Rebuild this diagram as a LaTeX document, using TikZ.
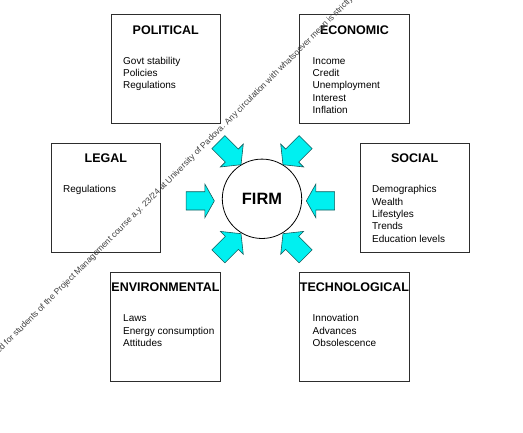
\documentclass[tikz,border=0pt]{standalone}
\usepackage{fontspec}
\setmainfont{Liberation Sans}
\definecolor{arrowcyan}{RGB}{0,240,240}
\definecolor{arrowedge}{RGB}{20,90,90}
\definecolor{boxline}{RGB}{45,45,45}
\begin{document}
\begin{tikzpicture}[x=1pt,y=-1pt,
  box/.style={draw=boxline, line width=0.8pt, minimum width=109.5pt, minimum height=109pt, inner sep=0pt},
  ttl/.style={font=\fontsize{12.5}{14}\selectfont\bfseries, anchor=base, inner sep=0pt},
  item/.style={font=\fontsize{10}{12}\selectfont, anchor=base west, inner sep=0pt},
  firm/.style={circle, draw=black, line width=0.8pt, minimum size=79.4pt, inner sep=0pt, font=\fontsize{16.4}{18}\selectfont\bfseries},
  blk/.style={fill=arrowcyan, draw=arrowedge, line width=0.6pt, line join=miter},
  wm/.style={font=\fontsize{8.5}{10}\selectfont, text=black!75, anchor=base west, inner sep=0pt, rotate=45},
  harrow/.pic={\draw[blk] (-14.15,-9.15) -- (4.65,-9.15) -- (4.65,-16.85) -- (14.15,0) -- (4.65,16.85) -- (4.65,9.15) -- (-14.15,9.15) -- cycle;},
  darrow/.pic={\draw[blk] (-16,-9.2) -- (3,-9.2) -- (3,-16.2) -- (16,0) -- (3,16.2) -- (3,9.2) -- (-16,9.2) -- cycle;}
]
\useasboundingbox (0,0) rectangle (523,433);

% boxes
\node[box] (pol) at (165.7,69.1) {};
\node[box] (eco) at (354.5,69.2) {};
\node[box] (leg) at (105.8,197.8) {};
\node[box] (soc) at (414.7,197.8) {};
\node[box] (env) at (165.5,326.8) {};
\node[box] (tec) at (354.5,326.8) {};

% titles
\node[ttl] (polT) at (165.7,34.2) {POLITICAL};
\node[ttl] (ecoT) at (354.5,34.2) {ECONOMIC};
\node[ttl] (legT) at (105.8,162.8) {LEGAL};
\node[ttl] (socT) at (414.7,162.8) {SOCIAL};
\node[ttl] (envT) at (165.5,291.8) {ENVIRONMENTAL};
\node[ttl] (tecT) at (354.5,291.8) {TECHNOLOGICAL};

% items
\foreach \t [count=\i from 0] in {Govt stability,Policies,Regulations}
  \node[item] (pol\i) at (123,{64.4+12.3*\i}) {\t};
\foreach \t [count=\i from 0] in {Income,Credit,Unemployment,Interest,Inflation}
  \node[item] (eco\i) at (312.5,{64.4+12.3*\i}) {\t};
\foreach \t [count=\i from 0] in {Regulations}
  \node[item] (leg\i) at (63,{193+12.3*\i}) {\t};
\foreach \t [count=\i from 0] in {Demographics,Wealth,Lifestyles,Trends,Education levels}
  \node[item] (soc\i) at (372,{193+12.3*\i}) {\t};
\foreach \t [count=\i from 0] in {Laws,Energy consumption,Attitudes}
  \node[item] (env\i) at (123,{322+12.3*\i}) {\t};
\foreach \t [count=\i from 0] in {Innovation,Advances,Obsolescence}
  \node[item] (tec\i) at (312.5,{322+12.3*\i}) {\t};

% firm
\node[firm] (firm) at (262,198.8) {FIRM};

% block arrows
\pic at (200.2,200.9) {harrow};
\pic[rotate=180] at (320.5,200.9) {harrow};
\pic[rotate=-45] at (229.7,153.4) {darrow};
\pic[rotate=-135] at (294.3,153.4) {darrow};
\pic[rotate=45] at (229.7,245) {darrow};
\pic[rotate=135] at (294.3,245) {darrow};

% watermark
\begin{scope}
\clip (0,0) rectangle (523,433);
\node[wm] (wm) at (-1,354) {ed for students of the Project Management course a.y. 23/24 at University of Padova.  Any circulation with whatsoever mean is strictly};
\end{scope}
\end{tikzpicture}
\end{document}
